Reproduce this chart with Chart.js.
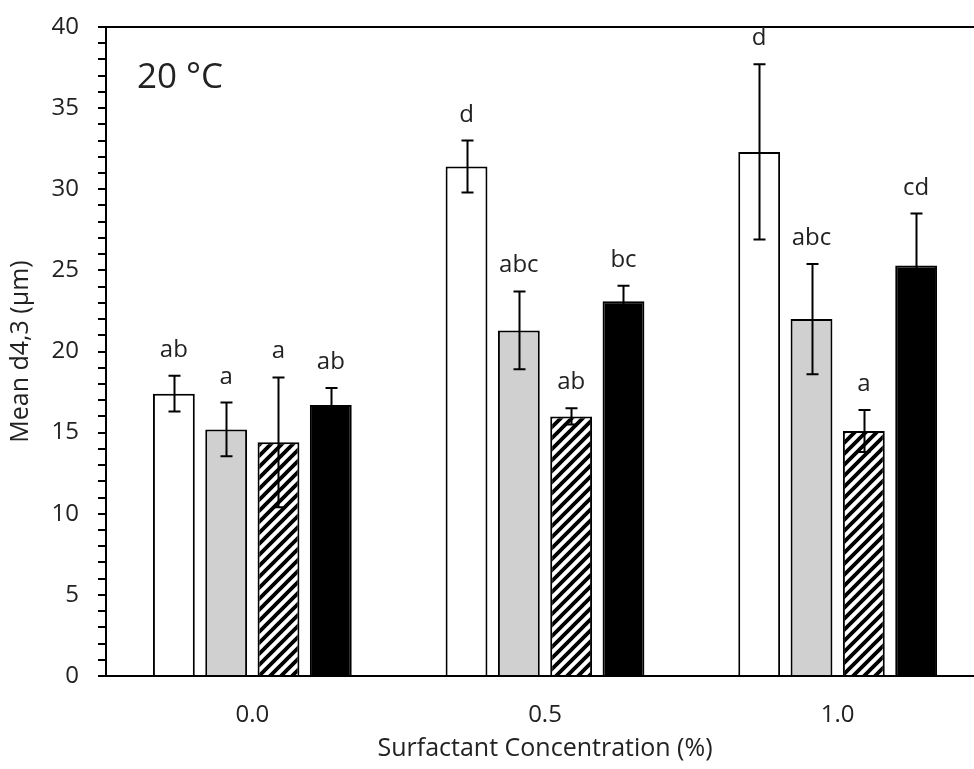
<!DOCTYPE html>
<html>
<head>
<meta charset="utf-8">
<script src="https://cdn.jsdelivr.net/npm/chart.js@4.4.1/dist/chart.umd.min.js"></script>
<style>
  html, body { margin: 0; padding: 0; background: #fff; overflow: hidden; }
  #wrap { position: absolute; left: 0; top: 0; width: 984px; height: 769px; }
</style>
</head>
<body>
<div id="wrap"><canvas id="chart"></canvas></div>
<script>
const categories = ['0.0', '0.5', '1.0'];

const series1 = [17.4, 31.4, 32.3];
const series2 = [15.2, 21.3, 22.0];
const series3 = [14.4, 16.0, 15.1];
const series4 = [16.7, 23.1, 25.3];

const err1 = [1.1, 1.6, 5.4];
const err2 = [1.65, 2.4, 3.4];
const err3 = [4.0, 0.5, 1.3];
const err4 = [1.05, 0.95, 3.2];

const letters1 = ['ab', 'd', 'd'];
const letters2 = ['a', 'abc', 'abc'];
const letters3 = ['a', 'ab', 'a'];
const letters4 = ['ab', 'bc', 'cd'];

const FONT = "'Open Sans', 'Noto Sans', sans-serif";
const TEXT = '#222';

// hatch pattern for the third series
function makeHatch() {
  const c = document.createElement('canvas');
  c.width = 11; c.height = 11;
  const g = c.getContext('2d');
  g.fillStyle = '#fff';
  g.fillRect(0, 0, 11, 11);
  g.strokeStyle = '#000';
  g.lineWidth = 3.8;
  g.beginPath();
  g.moveTo(-3, 14); g.lineTo(14, -3);
  g.moveTo(-14, 14); g.lineTo(3, -3);
  g.moveTo(8, 14); g.lineTo(25, -3);
  g.stroke();
  return document.getElementById('chart').getContext('2d').createPattern(c, 'repeat');
}

const errs = [err1, err2, err3, err4];
const letters = [letters1, letters2, letters3, letters4];

const errorBars = {
  id: 'errorBars',
  afterDatasetsDraw(chart) {
    const ctx = chart.ctx;
    const y = chart.scales.y;
    ctx.save();
    ctx.strokeStyle = '#000';
    ctx.lineWidth = 2;
    ctx.fillStyle = TEXT;
    ctx.font = "24px " + FONT;
    ctx.textAlign = 'center';
    ctx.textBaseline = 'alphabetic';
    chart.data.datasets.forEach((ds, i) => {
      const meta = chart.getDatasetMeta(i);
      meta.data.forEach((bar, j) => {
        const v = ds.data[j], e = errs[i][j];
        const yt = y.getPixelForValue(v + e);
        const yb = y.getPixelForValue(v - e);
        const x = Math.round(bar.x) + 0.5;
        ctx.beginPath();
        ctx.moveTo(x, yt); ctx.lineTo(x, yb);
        ctx.moveTo(x - 6, yt); ctx.lineTo(x + 6, yt);
        ctx.moveTo(x - 6, yb); ctx.lineTo(x + 6, yb);
        ctx.stroke();
        ctx.fillText(letters[i][j], bar.x, yt - 19);
      });
    });
    // panel label
    ctx.font = "35px " + FONT;
    ctx.textAlign = 'left';
    ctx.fillText('20 °C', chart.chartArea.left + 31, chart.chartArea.top + 61);
    ctx.restore();
  }
};

const ctx = document.getElementById('chart').getContext('2d');
const hatch = makeHatch();

new Chart(ctx, {
  type: 'bar',
  data: {
    labels: categories,
    datasets: [
      { label: 'Series 1', data: series1, backgroundColor: '#fff', borderColor: '#000', borderWidth: 2 },
      { label: 'Series 2', data: series2, backgroundColor: '#d0d0d0', borderColor: '#000', borderWidth: 2 },
      { label: 'Series 3', data: series3, backgroundColor: hatch, borderColor: '#000', borderWidth: 2 },
      { label: 'Series 4', data: series4, backgroundColor: '#000', borderColor: '#000', borderWidth: 2 }
    ]
  },
  options: {
    responsive: true,
    maintainAspectRatio: false,
    animation: false,
    categoryPercentage: 0.715,
    barPercentage: 0.8,
    layout: { padding: { top: 27, right: 0, left: 0, bottom: 0 } },
    plugins: { legend: { display: false }, tooltip: { enabled: false } },
    scales: {
      x: {
        grid: { display: false },
        border: { color: '#000', width: 2 },
        ticks: { color: TEXT, font: { family: FONT, size: 24 }, padding: 17 },
        title: { display: true, text: 'Surfactant Concentration (%)', color: TEXT,
                 font: { family: FONT, size: 25 }, padding: { top: 4, bottom: 5 } },
        afterFit(scale) { scale.height = 93; }
      },
      y: {
        min: 0, max: 40,
        grid: {
          color: c => c.tick && c.tick.value === 40 ? '#000' : 'rgba(0,0,0,0)',
          lineWidth: 2,
          tickColor: '#000',
          tickWidth: 2,
          tickLength: 8
        },
        border: { color: '#000', width: 2 },
        ticks: {
          stepSize: 1,
          autoSkip: false,
          color: TEXT,
          font: { family: FONT, size: 24 },
          padding: 19,
          callback: v => v % 5 === 0 ? v : ''
        },
        title: { display: true, text: 'Mean d4,3 (µm)', color: TEXT,
                 font: { family: FONT, size: 25 }, padding: { top: 6, bottom: 0 } },
        afterFit(scale) {
          scale.width = 106;
          scale.paddingTop = 0;
          scale.paddingBottom = 0;
        }
      }
    }
  },
  plugins: [errorBars]
});
</script>
</body>
</html>
